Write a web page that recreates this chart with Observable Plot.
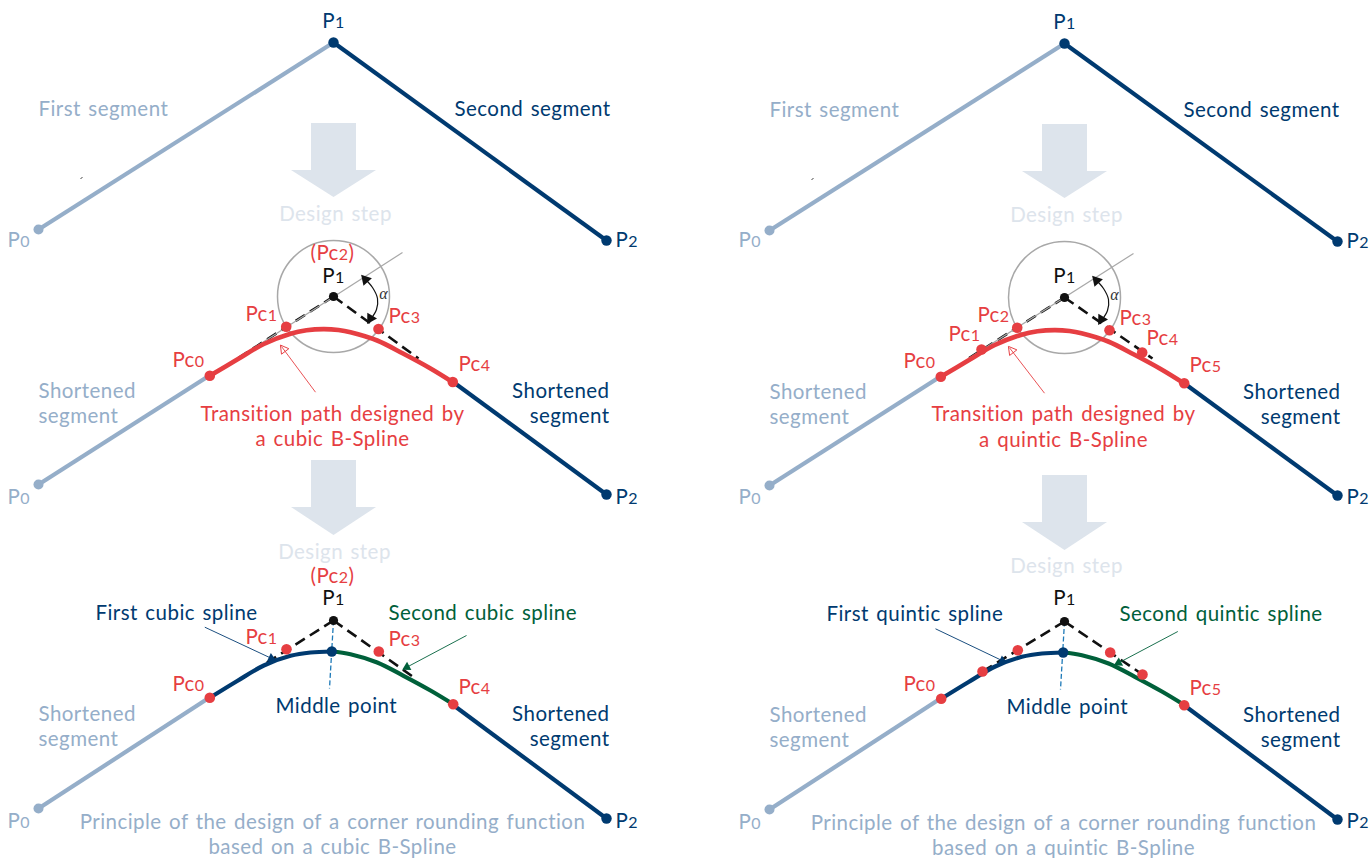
<!DOCTYPE html>
<html>
<head>
<meta charset="utf-8">
<script src="https://cdn.jsdelivr.net/npm/d3@7"></script>
<script src="https://cdn.jsdelivr.net/npm/@observablehq/plot@0.6"></script>
<style>
html,body{margin:0;padding:0;background:#fff}
svg{display:block}
.lbl text{letter-spacing:.45px;word-spacing:1.8px}
</style>
</head>
<body>
<div id="chart"></div>
<script>
// Straight segments [x1, y1, x2, y2]
const firstSegments = [
  [38,229,333,42],[38,484,209,375],[38,808,209,697],
  [769,230,1064,43],[769,485,940,376],[769,809,940,698]
];
const secondSegments = [
  [333,42,606,240],[452,381,606,494],[452,704,606,818],
  [1064,43,1337,241],[1184,383,1337,495],[1184,705,1337,819]
];
// Transition paths
const curveX = [209.3,236.7,263.3,290,306,323,338,350,376.7,403,430,452.3];
const curveY = [375.3,359,343.5,333.2,329.8,328.6,329.5,331.7,340,353.3,368,381.7];
const quinticCurveX = curveX.map(x => x + 731);
const quinticCurveY = curveY.map(y => y + 1);
const firstHalfX = [209.3,236.7,263.3,290,310,331.3];
const firstHalfY = [697.3,680.5,665,655.3,652,651];
const secondHalfX = [331.3,350,376.7,403,430,452.7];
const secondHalfY = [651,653.7,662,675.3,690,703.7];
const firstHalfQX = firstHalfX.map(x => x + 731.4);
const firstHalfQY = firstHalfY.map(y => y + 1);
const secondHalfQX = secondHalfX.map(x => x + 731.4);
const secondHalfQY = secondHalfY.map(y => y + 1);
// Points
const navyPoints = [[333,42],[606,240],[606,494],[606,818],[331.3,651],
  [1064,43],[1337,241],[1337,495],[1337,819],[1062.7,652]];
const lightPoints = [[38,229],[38,484],[38,808],[769,230],[769,485],[769,809]];
const blackPoints = [[333,296],[333,620],[1064,297],[1064,621]];
const redPoints = [
  [209.3,375.3],[285.7,326.3],[378,328.5],[452.3,381.5],
  [209.3,697.3],[286,648.7],[378.3,651],[452.7,703.7],
  [940.3,376.3],[981,349],[1016.7,327.3],[1109,329.7],[1141.7,352],[1183.7,382.7],
  [940.7,698.3],[982,671],[1017.3,649.7],[1109.7,652],[1142,674],[1183.7,704.7]
];
// Construction lines
const guideCircles = [[333,296],[1064,297]];
const guideLines = [[402,252,236.7,358.3],[1133,253,968,358]];
const dashedLines = [
  [333,296,236.7,358.3],[333,296,418,358],
  [333,620,243,677],[333,620,415,678],
  [1064,297,968,358],[1064,297,1152,358],
  [1064,621,982,671],[1064,621,1142,674]
];
const middleLines = [[333,620,329,688],[1064,621,1060,689]];
const angleArcs = [
  [[364,278],[372,287],[377,298],[376,309],[370,319]],
  [[1095,279],[1103,288],[1108,299],[1107,310],[1101,320]]
];
const angleHeads = [[365,279,-42],[370,318,-149],[1096,280,-42],[1101,319,-149]];
// Leader lines
const redLeaders = [[315,391.7,281,346],[1044,392.7,1009,347.3]];
const navyLeaders = [[204.3,626.7,274,659.3],[935,628.3,1005,661.7]];
const greenLeaders = [[466,635,403.3,668.3],[1177.3,631,1115,664]];
const specks = [[80,178,82,177],[811,179,813,178]];
// Design step arrows: y, x1, x2
const stepArrows = [
  [[123,311,356],[170,311,356],[170,291,376],[197,333.5,333.5]],
  [[460,311,356],[507,311,356],[507,291,376],[535,333.5,333.5]],
  [[124,1042,1087],[171,1042,1087],[171,1022,1107],[198,1064.5,1064.5]],
  [[475,1042,1087],[522,1042,1087],[522,1022,1107],[550,1064.5,1064.5]]
];
// Labels: text, x, y
const lightStart = [
  ["First segment",38,109],["P0",7,240],["Shortened",38,391],["segment",38,416],["P0",7,497],
  ["Shortened",38,714],["segment",38,739],["P0",7,821],
  ["First segment",769,110],["P0",738,240],["Shortened",769,392],["segment",769,417],["P0",738,497],
  ["Shortened",769,715],["segment",769,740],["P0",738,822]
];
const lightMiddle = [
  ["Principle of the design of a corner rounding function",332,822],
  ["based on a cubic B-Spline",332,847],
  ["Principle of the design of a corner rounding function",1063,823],
  ["based on a quintic B-Spline",1063,848]
];
const paleMiddle = [["Design step",335,214],["Design step",334,552],["Design step",1066,215],["Design step",1066,566]];
const navyStart = [
  ["Second segment",454,109],["P2",615,240],["P2",615,497],["P2",615,821],
  ["First cubic spline",95,613],["Middle point",275,706],
  ["Second segment",1183,110],["P2",1346,241],["P2",1346,497],["P2",1346,821],
  ["First quintic spline",826,614],["Middle point",1006,707]
];
const navyMiddle = [["P1",333,21],["P1",1064,22]];
const navyEnd = [
  ["Shortened",609,391],["segment",609,416],["Shortened",609,714],["segment",609,739],
  ["Shortened",1340,392],["segment",1340,417],["Shortened",1340,715],["segment",1340,740]
];
const blackMiddle = [["P1",333,276],["P1",333,598],["P1",1064,276],["P1",1064,598]];
const redMiddle = [
  ["(Pc2)",332,253],["Pc1",261,314],["Pc3",404,316],["Pc0",188,360],["Pc4",474,364],
  ["Transition path designed by",332,414],["a cubic B-Spline",332,439],
  ["(Pc2)",332,576],["Pc1",261,637],["Pc3",404,639],["Pc0",188,684],["Pc4",474,687],
  ["Pc0",919,361],["Pc1",964,334],["Pc2",993,315],["Pc3",1135,318],["Pc4",1162,338],["Pc5",1205,365],
  ["Transition path designed by",1063,414],["a quintic B-Spline",1063,440],
  ["Pc0",919,684],["Pc5",1205,688]
];
const greenStart = [["Second cubic spline",388,613],["Second quintic spline",1119,614]];
const alphaLabels = [["α",383,293],["α",1114,294]];

const NAVY = "#003a70", LIGHT = "#95aec9", RED = "#e63e42", GREEN = "#00603a",
      PALE = "#dde4ec", BLACK = "#111111", GREY = "#a8a8a8", BLUE = "#1f7ab8";

const toLine = (xs, ys) => xs.map((x, i) => [x, ys[i]]);
const link = (data, o) => Plot.link(data, {x1: d => d[0], y1: d => d[1], x2: d => d[2], y2: d => d[3], ...o});
const dot = (data, o) => Plot.dot(data, {x: d => d[0], y: d => d[1], ...o});
const line = (data, o) => Plot.line(data, {x: d => d[0], y: d => d[1], ...o});
const label = (data, fill, textAnchor) => Plot.text(data, {
  x: d => d[1], y: d => d[2], text: d => d[0], fill, textAnchor,
  fontFamily: "Lato", fontSize: 20.5, className: "lbl"
});
const heading = d => Math.atan2(d[2] - d[0], d[1] - d[3]) * 180 / Math.PI;
const leaderTip = d => {
  const l = Math.hypot(d[2] - d[0], d[3] - d[1]);
  return [d[2] - 3.5 * (d[2] - d[0]) / l, d[3] - 3.5 * (d[3] - d[1]) / l, heading(d)];
};

const chart = Plot.plot({
  width: 1370, height: 858,
  marginTop: 0, marginRight: 0, marginBottom: 0, marginLeft: 0,
  x: {domain: [0, 1370], range: [0, 1370], axis: null},
  y: {domain: [0, 858], range: [0, 858], axis: null},
  style: {background: "#fff"},
  marks: [
    ...stepArrows.map(a => Plot.areaX(a, {y: d => d[0], x1: d => d[1], x2: d => d[2], fill: PALE})),
    link(specks, {stroke: BLACK, strokeWidth: 0.8}),
    dot(guideCircles, {r: 56, stroke: GREY, strokeWidth: 1.5, fill: "none"}),
    link(dashedLines, {stroke: BLACK, strokeWidth: 2.6, strokeDasharray: "11,6"}),
    link(guideLines, {stroke: GREY, strokeWidth: 1.2}),
    link(middleLines, {stroke: BLUE, strokeWidth: 1.3, strokeDasharray: "5,2.5"}),
    link(firstSegments, {stroke: LIGHT, strokeWidth: 4.2}),
    link(secondSegments, {stroke: NAVY, strokeWidth: 4.2}),
    line(toLine(curveX, curveY), {stroke: RED, strokeWidth: 4.6, curve: "catmull-rom"}),
    line(toLine(quinticCurveX, quinticCurveY), {stroke: RED, strokeWidth: 4.6, curve: "catmull-rom"}),
    line(toLine(firstHalfX, firstHalfY), {stroke: NAVY, strokeWidth: 4.2, curve: "catmull-rom"}),
    line(toLine(secondHalfX, secondHalfY), {stroke: GREEN, strokeWidth: 4.2, curve: "catmull-rom"}),
    line(toLine(firstHalfQX, firstHalfQY), {stroke: NAVY, strokeWidth: 4.2, curve: "catmull-rom"}),
    line(toLine(secondHalfQX, secondHalfQY), {stroke: GREEN, strokeWidth: 4.2, curve: "catmull-rom"}),
    ...angleArcs.map(a => line(a, {stroke: BLACK, strokeWidth: 1.2, curve: "catmull-rom"})),
    dot(angleHeads, {symbol: "triangle", r: 4.2, fill: BLACK, rotate: d => d[2]}),
    link(redLeaders, {stroke: RED, strokeWidth: 0.9}),
    dot(redLeaders.map(leaderTip), {symbol: "triangle", r: 3.4, fill: "none", stroke: RED, strokeWidth: 0.9, rotate: d => d[2]}),
    link(navyLeaders, {stroke: NAVY, strokeWidth: 0.9}),
    dot(navyLeaders.map(leaderTip), {symbol: "triangle", r: 3.4, fill: NAVY, rotate: d => d[2]}),
    link(greenLeaders, {stroke: GREEN, strokeWidth: 0.9}),
    dot(greenLeaders.map(leaderTip), {symbol: "triangle", r: 3.4, fill: GREEN, rotate: d => d[2]}),
    dot(lightPoints, {r: 5, fill: LIGHT}),
    dot(navyPoints, {r: 5.2, fill: NAVY}),
    dot(blackPoints, {r: 4.6, fill: BLACK}),
    dot(redPoints, {r: 5.3, fill: RED}),
    label(lightStart, LIGHT, "start"),
    label(lightMiddle, LIGHT, "middle"),
    label(paleMiddle, PALE, "middle"),
    label(navyStart, NAVY, "start"),
    label(navyMiddle, NAVY, "middle"),
    label(navyEnd, NAVY, "end"),
    label(blackMiddle, BLACK, "middle"),
    label(redMiddle, RED, "middle"),
    label(greenStart, GREEN, "start"),
    Plot.text(alphaLabels, {x: d => d[1], y: d => d[2], text: d => d[0], fill: "#333",
      fontFamily: "Liberation Serif", fontStyle: "italic", fontSize: 16})
  ]
});
document.getElementById("chart").appendChild(chart);
// Digits in point names are drawn small, as in the picture (text content stays whole)
d3.select(chart).selectAll("text").each(function () {
  const s = this.textContent, m = s.match(/^(\(?Pc?)(\d)(\)?)$/);
  if (!m) return;
  const t = d3.select(this);
  t.text(null);
  t.append("tspan").text(m[1]);
  t.append("tspan").attr("font-size", 16).text(m[2]);
  if (m[3]) t.append("tspan").text(m[3]);
});
</script>
</body>
</html>
